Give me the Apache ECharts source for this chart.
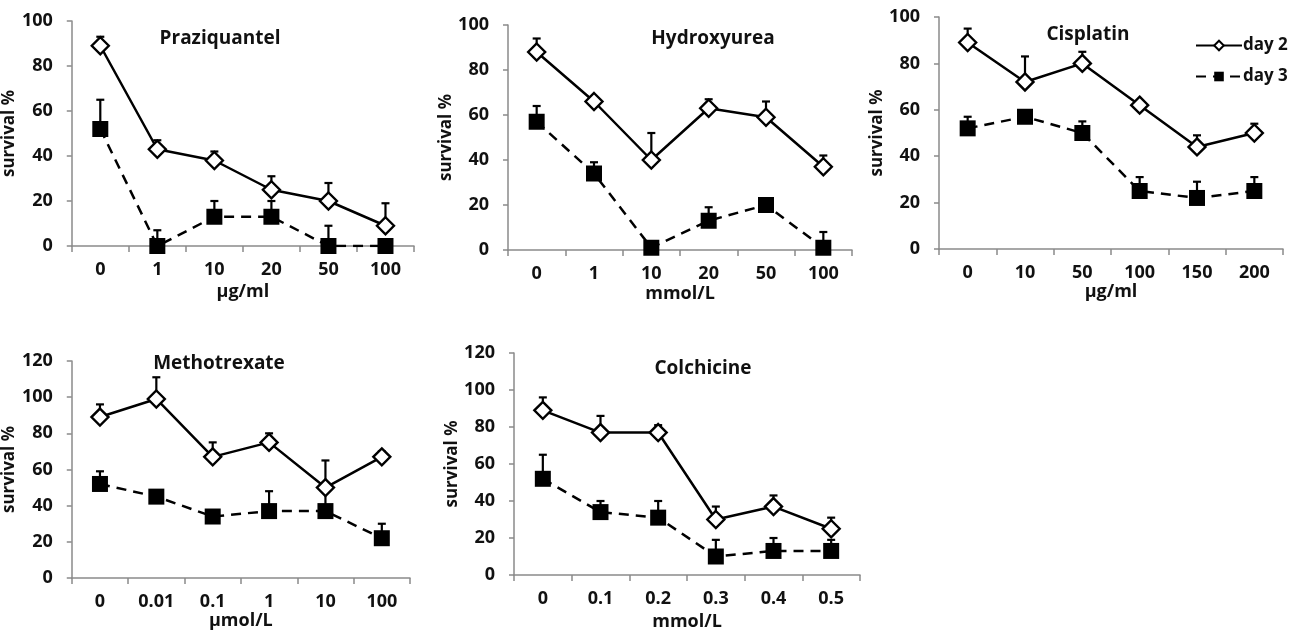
<!DOCTYPE html>
<html>
<head>
<meta charset="utf-8">
<script src="https://cdn.jsdelivr.net/npm/echarts@6/dist/echarts.min.js"></script>
<style>
  html, body { margin: 0; padding: 0; background: #fff; }
  #chart { width: 1298px; height: 633px; }
</style>
</head>
<body>
<div id="chart"></div>
<script>
// 数据：每个药物的剂量、day 2 / day 3 存活率和误差（只画上半部分）
const praziDoses = ['0', '1', '10', '20', '50', '100'];
const praziDay2 = [89, 43, 38, 25, 20, 9];
const praziDay2Err = [4, 4, 4, 6, 8, 10];
const praziDay3 = [52, 0, 13, 13, 0, 0];
const praziDay3Err = [13, 7, 7, 7, 9, 0];

const hydroDoses = ['0', '1', '10', '20', '50', '100'];
const hydroDay2 = [88, 66, 40, 63, 59, 37];
const hydroDay2Err = [6, 1, 12, 4, 7, 5];
const hydroDay3 = [57, 34, 1, 13, 20, 1];
const hydroDay3Err = [7, 5, 0, 6, 0, 7];

const cisDoses = ['0', '10', '50', '100', '150', '200'];
const cisDay2 = [89, 72, 80, 62, 44, 50];
const cisDay2Err = [6, 11, 5, 0, 5, 4];
const cisDay3 = [52, 57, 50, 25, 22, 25];
const cisDay3Err = [5, 0, 5, 6, 7, 6];

const methoDoses = ['0', '0.01', '0.1', '1', '10', '100'];
const methoDay2 = [89, 99, 67, 75, 50, 67];
const methoDay2Err = [7, 12, 8, 5, 15, 3];
const methoDay3 = [52, 45, 34, 37, 37, 22];
const methoDay3Err = [7, 2, 0, 11, 11, 8];

const colchDoses = ['0', '0.1', '0.2', '0.3', '0.4', '0.5'];
const colchDay2 = [89, 77, 77, 30, 37, 25];
const colchDay2Err = [7, 9, 4, 7, 6, 6];
const colchDay3 = [52, 34, 31, 10, 13, 13];
const colchDay3Err = [13, 6, 9, 9, 7, 6];

const panels = [
  {title: 'Praziquantel', unit: 'μg/ml', doses: praziDoses, d2: praziDay2, e2: praziDay2Err, d3: praziDay3, e3: praziDay3Err,
   grid: {left: 70, top: 21, width: 344, height: 225}, max: 100, titleX: 215, titleY: 24, nameGap: 37, yGap: 45},
  {title: 'Hydroxyurea', unit: 'mmol/L', doses: hydroDoses, d2: hydroDay2, e2: hydroDay2Err, d3: hydroDay3, e3: hydroDay3Err,
   grid: {left: 508, top: 25, width: 344, height: 225}, max: 100, titleX: 708, titleY: 24, nameGap: 35, yGap: 45},
  {title: 'Cisplatin', unit: 'μg/ml', doses: cisDoses, d2: cisDay2, e2: cisDay2Err, d3: cisDay3, e3: cisDay3Err,
   grid: {left: 939, top: 17, width: 344, height: 232}, max: 100, titleX: 1083, titleY: 20, nameGap: 30, yGap: 51},
  {title: 'Methotrexate', unit: 'μmol/L', doses: methoDoses, d2: methoDay2, e2: methoDay2Err, d3: methoDay3, e3: methoDay3Err,
   grid: {left: 68, top: 361, width: 342, height: 217}, max: 120, titleX: 214, titleY: 349, nameGap: 34, yGap: 43},
  {title: 'Colchicine', unit: 'mmol/L', doses: colchDoses, d2: colchDay2, e2: colchDay2Err, d3: colchDay3, e3: colchDay3Err,
   grid: {left: 514, top: 353, width: 346, height: 222}, max: 120, titleX: 698, titleY: 354, nameGap: 38, yGap: 42}
];

const FONT = '"Open Sans", "Liberation Sans", sans-serif';
const axisGray = '#8a8a8a';

function errorBar(params, api) {
  const e = api.value(2);
  if (!e) return null;
  const p0 = api.coord([api.value(0), api.value(1)]);
  const p1 = api.coord([api.value(0), api.value(1) + e]);
  return {
    type: 'group',
    children: [
      {type: 'line', shape: {x1: p0[0], y1: p0[1], x2: p1[0], y2: p1[1]}, style: {stroke: '#000', lineWidth: 2.2}},
      {type: 'line', shape: {x1: p1[0] - 4, y1: p1[1], x2: p1[0] + 4, y2: p1[1]}, style: {stroke: '#000', lineWidth: 2.2}}
    ]
  };
}

const grids = [], xAxes = [], yAxes = [], titles = [], series = [];
panels.forEach((p, i) => {
  grids.push(p.grid);
  titles.push({
    text: p.title, left: p.titleX, top: p.titleY, textAlign: 'center',
    textStyle: {fontFamily: FONT, fontWeight: 'bold', fontSize: 19, color: '#111'}
  });
  xAxes.push({
    type: 'category', gridIndex: i, data: p.doses,
    name: p.unit, nameLocation: 'middle', nameGap: p.nameGap,
    nameTextStyle: {fontFamily: FONT, fontWeight: 'bold', fontSize: 18, color: '#111'},
    axisLine: {lineStyle: {color: axisGray, width: 1.5}},
    axisTick: {show: true, length: 6, lineStyle: {color: axisGray, width: 1.5}},
    axisLabel: {fontFamily: FONT, fontWeight: 'bold', fontSize: 18, color: '#111', margin: 15}
  });
  yAxes.push({
    type: 'value', gridIndex: i, min: 0, max: p.max, interval: 20,
    name: 'survival %', nameLocation: 'middle', nameGap: p.yGap, nameRotate: 90,
    nameTextStyle: {fontFamily: FONT, fontWeight: 'bold', fontSize: 17, color: '#111'},
    axisLine: {show: true, lineStyle: {color: axisGray, width: 1.5}},
    axisTick: {show: true, length: 5, lineStyle: {color: axisGray, width: 1.5}},
    splitLine: {show: false},
    axisLabel: {fontFamily: FONT, fontWeight: 'bold', fontSize: 18, color: '#111', margin: 19}
  });
  series.push({
    name: 'err', type: 'custom', xAxisIndex: i, yAxisIndex: i, z: 1,
    renderItem: errorBar, data: p.d2.map((v, k) => [k, v, p.e2[k]])
  });
  series.push({
    name: 'err', type: 'custom', xAxisIndex: i, yAxisIndex: i, z: 1,
    renderItem: errorBar, data: p.d3.map((v, k) => [k, v, p.e3[k]])
  });
  series.push({
    name: 'day 2', type: 'line', xAxisIndex: i, yAxisIndex: i, z: 3,
    data: p.d2, symbol: 'diamond', symbolSize: 17, showAllSymbol: true,
    lineStyle: {color: '#000', width: 2.5},
    itemStyle: {color: '#fff', borderColor: '#000', borderWidth: 2.4}
  });
  series.push({
    name: 'day 3', type: 'line', xAxisIndex: i, yAxisIndex: i, z: 2,
    data: p.d3, symbol: 'rect', symbolSize: 16, showAllSymbol: true,
    lineStyle: {color: '#000', width: 2.5, type: [10, 7]},
    itemStyle: {color: '#000', borderColor: '#000', borderWidth: 0}
  });
});

const chart = echarts.init(document.getElementById('chart'));
chart.setOption({
  animation: false,
  backgroundColor: '#fff',
  title: titles,
  legend: {
    data: ['day 2', 'day 3'], orient: 'vertical', left: 1190, top: 32,
    itemWidth: 46, itemHeight: 12, itemGap: 14,
    textStyle: {fontFamily: FONT, fontWeight: 'bold', fontSize: 17, color: '#111', padding: [0, 0, 0, -4]}
  },
  grid: grids,
  xAxis: xAxes,
  yAxis: yAxes,
  series: series
});
</script>
</body>
</html>
